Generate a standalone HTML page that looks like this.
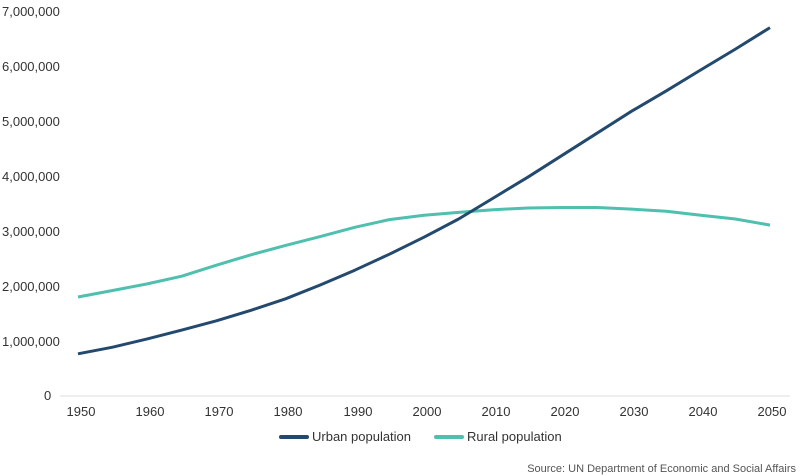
<!DOCTYPE html><html><head><style>body{margin:0;background:#fff}svg{display:block;font-family:"Liberation Sans",sans-serif}</style></head><body>
<svg width="800" height="476" viewBox="0 0 800 476">
<line x1="60" y1="396" x2="790" y2="396" stroke="#ddd" stroke-width="1"/>
<g font-size="13" fill="#333">
<text x="2" y="16">7,000,000</text><text x="2" y="71">6,000,000</text><text x="2" y="126">5,000,000</text><text x="2" y="181">4,000,000</text><text x="2" y="236">3,000,000</text><text x="2" y="291">2,000,000</text><text x="2" y="346">1,000,000</text><text x="44" y="400">0</text>
</g>
<g font-size="13" fill="#333" text-anchor="middle">
<text x="81" y="416">1950</text><text x="150" y="416">1960</text><text x="219" y="416">1970</text><text x="288" y="416">1980</text><text x="358" y="416">1990</text><text x="427" y="416">2000</text><text x="496" y="416">2010</text><text x="565" y="416">2020</text><text x="634" y="416">2030</text><text x="703" y="416">2040</text><text x="772" y="416">2050</text>
</g>
<polyline fill="none" stroke="#4fbfae" stroke-width="3" stroke-linejoin="round" points="78,297 112.6,290.5 147.2,283.9 181.8,276.2 216.4,265.2 251,254.8 285.6,245.4 320.2,236.6 354.8,227.3 389.4,219.6 424,215.2 458.6,212.4 493.2,209.7 527.8,208 562.4,207.5 597,207.5 631.6,209.1 666.2,211.3 700.8,215.2 735.4,219 770,225.1"/>
<polyline fill="none" stroke="#234a6e" stroke-width="3" stroke-linejoin="round" points="78,353.8 112.6,347.2 147.2,338.9 181.8,330.1 216.4,320.8 251,310.3 285.6,298.8 320.2,285 354.8,270.2 389.4,254.2 424,237.2 458.6,219 493.2,198.1 527.8,177.2 562.4,155.2 597,133.2 631.6,111.2 666.2,90.9 700.8,69.9 735.4,49.1 770,27.6"/>
<line x1="281" y1="437" x2="307" y2="437" stroke="#234a6e" stroke-width="4" stroke-linecap="round"/>
<text x="312" y="441" font-size="13" fill="#333">Urban population</text>
<line x1="436" y1="437" x2="462" y2="437" stroke="#4fbfae" stroke-width="4" stroke-linecap="round"/>
<text x="467" y="441" font-size="13" fill="#333">Rural population</text>
<text x="796" y="472" font-size="11" fill="#555" text-anchor="end">Source: UN Department of Economic and Social Affairs</text>
</svg></body></html>
